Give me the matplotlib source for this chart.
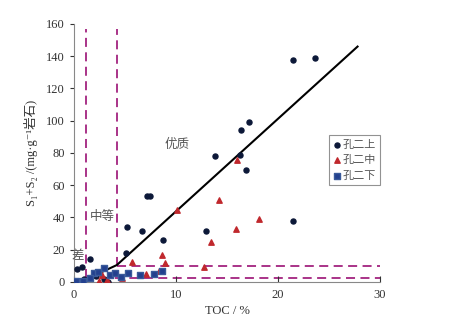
import numpy as np
import matplotlib
matplotlib.use("Agg")
import matplotlib.pyplot as plt

plt.rcParams['font.family'] = ['Liberation Serif', 'DejaVu Serif', 'Noto Sans CJK SC']

# 孔二上
up_x = [21.5, 23.6, 17.2, 16.4, 13.8, 16.3, 16.9, 21.5, 12.9, 7.2, 7.5, 5.2, 6.7, 8.7,
        5.1, 1.6, 0.75, 0.3, 2.9, 3.3, 0.2, 1.0, 2.2]
up_y = [137.7, 139, 99.2, 94.3, 78, 78.6, 69.5, 38, 31.8, 53.3, 53.3, 33.9, 31.8, 25.9,
        18.2, 14.1, 9.5, 7.9, 1.7, 0.2, 0.5, 2, 4]
# 孔二中
mid_x = [16.0, 14.2, 10.1, 18.1, 15.9, 13.4, 12.7, 5.7, 8.9, 8.6, 2.7, 2.5, 4.7, 7.1, 8.3, 3.2]
mid_y = [75.7, 50.7, 44.5, 39, 32.8, 25, 9.5, 12.6, 12, 16.7, 4.3, 0.5, 2.3, 5, 7, 1.5]
# 孔二下
low_x = [2.9, 2.0, 1.6, 0.9, 3.5, 4.0, 5.3, 6.5, 7.8, 8.6, 0.2, 2.4, 4.6]
low_y = [8.5, 5.4, 2.3, 0.8, 4.3, 5.4, 5.4, 4.3, 5.0, 7.0, 0.5, 6.5, 3.0]

# boundary line and grade limits
line_x = [0.1, 1.0, 2.0, 3.0, 4.2, 27.8]
line_y = [0.0, 1.0, 4.0, 7.0, 10.5, 146.0]
toc_lo, toc_hi = 1.2, 4.2
s_lo, s_hi = 2.5, 10

fig = plt.figure(figsize=(4.52, 3.30), dpi=100)
ax = fig.add_axes([0.1637, 0.1455, 0.677, 0.7818])

dash = dict(color="#a3237f", linestyle=(0, (5, 3)), linewidth=1.3, zorder=1)
ax.plot([toc_lo, toc_lo], [s_lo, 157], **dash)
ax.plot([toc_hi, toc_hi], [s_hi, 157], **dash)
ax.plot([toc_hi, 30], [s_hi, s_hi], **dash)
ax.plot([toc_lo, 30], [s_lo, s_lo], **dash)

ax.plot(line_x, line_y, color="black", linewidth=1.5, zorder=2)

ax.scatter(up_x, up_y, s=13, marker="o", color="#0c1838", label="孔二上", zorder=3)
ax.scatter(mid_x, mid_y, s=15, marker="^", color="#c0282d", label="孔二中", zorder=3)
ax.scatter(low_x, low_y, s=17, marker="s", color="#23408e", edgecolors="#3a5a9a",
           label="孔二下", zorder=3)

txt = dict(color="#555555", fontsize=9, family=['Noto Sans CJK SC'])
ax.text(10.1, 85, "优质", ha="center", va="center", **txt)
ax.text(2.8, 40.5, "中等", ha="center", va="center", **txt)
ax.text(0.4, 16.5, "差", ha="center", va="center", **txt)

ax.set_xlim(0, 30)
ax.set_ylim(0, 160)
ax.set_xticks([0, 10, 20, 30])
ax.set_yticks(np.arange(0, 161, 20))
ax.tick_params(axis="x", direction="in", length=4, labelsize=9, colors="#333333", pad=5)
ax.tick_params(axis="y", direction="out", length=3, labelsize=9, colors="#333333")
for s in ["top", "right"]:
    ax.spines[s].set_visible(False)
for s in ["left", "bottom"]:
    ax.spines[s].set_color("#888888")

ax.set_xlabel("TOC / %", fontsize=9, color="#333333", labelpad=3)
ax.set_ylabel("S\u2081+S\u2082 /(mg·g\u207b\u00b9岩石)", fontsize=9, color="#333333", labelpad=6)

leg = ax.legend(loc="upper left", bbox_to_anchor=(0.833, 0.57), fontsize=8,
                frameon=True, fancybox=False, handlelength=0.6, handletextpad=0.2,
                borderpad=0.4, labelspacing=0.5, borderaxespad=0)
leg.get_frame().set_edgecolor("#777777")
leg.get_frame().set_linewidth(0.8)
for t in leg.get_texts():
    t.set_color("#555555")
    t.set_family(['Noto Sans CJK SC'])

fig.savefig("out.png", dpi=100)
